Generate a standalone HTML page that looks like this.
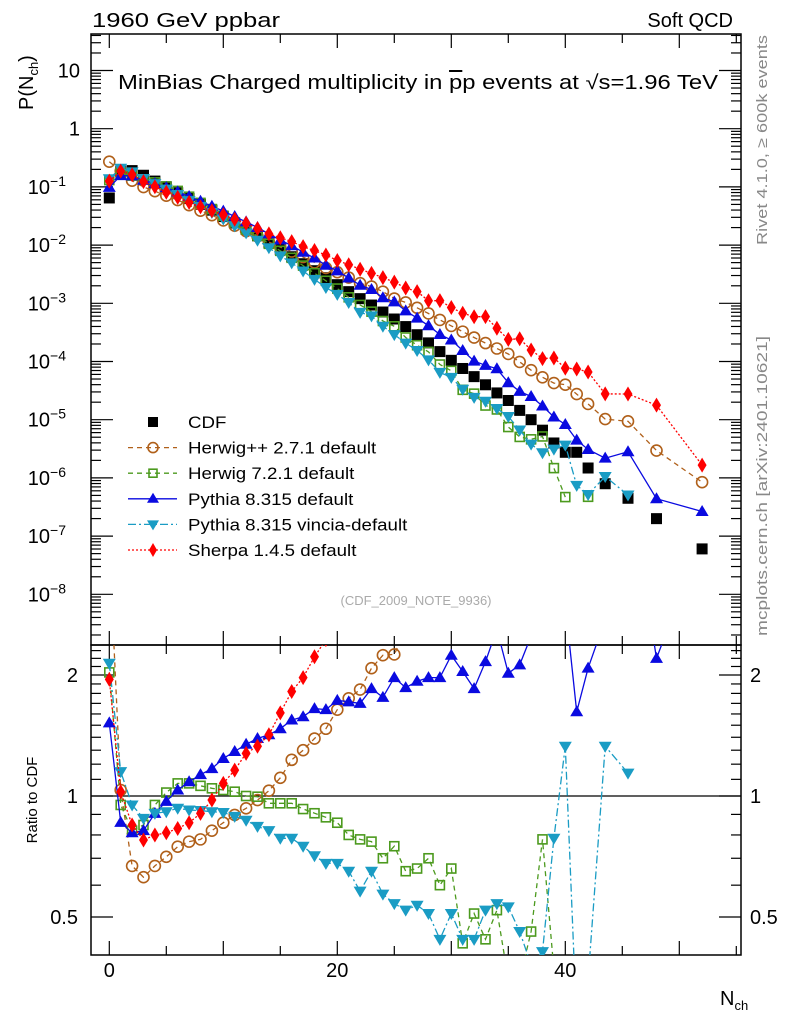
<!DOCTYPE html>
<html><head><meta charset="utf-8"><style>
html,body{margin:0;padding:0;background:#fff;width:786px;height:1024px;overflow:hidden;position:relative;}
svg{display:block;position:absolute;left:0;top:0;font-family:"Liberation Sans",sans-serif;overflow:hidden;}
</style></head><body>
<svg id="chart" width="786" height="1024" viewBox="0 0 786 1024" xmlns="http://www.w3.org/2000/svg">
<defs>
<clipPath id="clipMain"><rect x="91" y="34" width="650" height="611"/></clipPath>
<clipPath id="clipRatio"><rect x="91" y="645" width="650" height="310"/></clipPath>
</defs>
<text x="92" y="27" font-size="20" textLength="188" lengthAdjust="spacingAndGlyphs">1960 GeV ppbar</text>
<text x="733" y="27" font-size="20" text-anchor="end">Soft QCD</text>
<text x="118" y="89" font-size="20" textLength="600" lengthAdjust="spacingAndGlyphs">MinBias Charged multiplicity in <tspan text-decoration="overline">p</tspan>p events at √s=1.96 TeV</text>
<text transform="translate(33,110) rotate(-90)" font-size="20">P(N<tspan font-size="13" dy="5">ch</tspan><tspan dy="-5">)</tspan></text>
<text transform="translate(767,245) rotate(-90)" font-size="15" fill="#888" textLength="210" lengthAdjust="spacingAndGlyphs">Rivet 4.1.0, ≥ 600k events</text>
<text transform="translate(767,636) rotate(-90)" font-size="15" fill="#888" textLength="300" lengthAdjust="spacingAndGlyphs">mcplots.cern.ch [arXiv:2401.10621]</text>
<text x="416" y="605" font-size="13" fill="#aaa" text-anchor="middle">(CDF_2009_NOTE_9936)</text>
<text transform="translate(37,800) rotate(-90)" font-size="15" text-anchor="middle">Ratio to CDF</text>
<text x="720" y="1005" font-size="20">N<tspan font-size="13" dy="5">ch</tspan></text>
<g id="axes"></g>
<g id="mainMarks" clip-path="url(#clipMain)"></g>
<g id="ratioMarks" clip-path="url(#clipRatio)"></g>
<g id="legend"></g>
</svg>
<script>
// ---- data ----
const nch = [0,1,2,3,4,5,6,7,8,9,10,11,12,13,14,15,16,17,18,19,20,21,22,23,24,25,26,27,28,29,30,31,32,33,34,35,36,37,38,39,40,41,42,43.5,45.5,48,52];
const cdfLog10 = [-1.19,-0.74,-0.72,-0.8,-0.9,-1.0,-1.1,-1.2,-1.3,-1.4,-1.51,-1.62,-1.73,-1.84,-1.96,-2.08,-2.2,-2.32,-2.44,-2.56,-2.68,-2.8,-2.92,-3.03,-3.15,-3.27,-3.4,-3.54,-3.68,-3.83,-3.98,-4.12,-4.26,-4.4,-4.54,-4.67,-4.84,-5.0,-5.18,-5.4,-5.56,-5.56,-5.83,-6.1,-6.35,-6.7,-7.22];
const ratioHerwigPP = [4.2,1.035,0.67,0.628,0.67,0.706,0.748,0.77,0.78,0.82,0.858,0.897,0.932,0.977,1.031,1.11,1.23,1.30,1.39,1.47,1.64,1.75,1.84,2.08,2.24,2.25,2.6,2.9,3.2,3.5,3.9,4.3,4.7,5.2,5.8,6.3,6.8,7.1,8.1,10.7,14.5,10,12.6,12.9,21,14.8,14];
const ratioHerwig7 = [2.03,0.95,0.82,0.847,0.95,1.02,1.075,1.075,1.06,1.045,1.035,1.025,1.0,0.996,0.959,0.959,0.959,0.928,0.906,0.885,0.858,0.8,0.78,0.77,0.70,0.75,0.65,0.66,0.70,0.60,0.66,0.43,0.51,0.44,0.52,0.35,0.35,0.46,0.78,0.37,0.17,null,0.32,null,null,null,null];
const ratioPythia = [1.52,0.86,0.81,0.82,0.905,0.97,1.035,1.085,1.13,1.17,1.24,1.29,1.345,1.39,1.42,1.47,1.545,1.575,1.65,1.64,1.73,1.715,1.70,1.85,1.76,1.97,1.86,1.93,1.97,1.97,2.24,2.04,1.85,2.16,2.6,2.02,2.12,2.5,2.6,2.8,3.0,1.62,2.08,2.75,6.3,2.2,4.4];
const ratioVincia = [2.14,1.15,0.95,0.88,0.905,0.914,0.932,0.923,0.92,0.914,0.91,0.89,0.87,0.84,0.82,0.785,0.785,0.75,0.71,0.68,0.68,0.65,0.58,0.65,0.57,0.54,0.52,0.535,0.51,0.44,0.51,0.44,0.44,0.52,0.54,0.53,0.46,0.38,0.41,0.785,1.33,0.27,0.35,1.33,1.14,null,null];
const ratioSherpa = [1.95,1.025,0.847,0.777,0.8,0.81,0.83,0.858,0.905,0.977,1.075,1.16,1.277,1.33,1.42,1.61,1.82,1.97,2.22,2.45,2.6,2.9,3.2,3.5,3.9,4.3,4.6,5.5,5.3,7.5,8.1,8.9,10.7,14.8,12.9,11.2,17,15.8,17,28.8,28,27,44.7,35,62,89,27.5];
const xTicks = [0,20,40];
const mainTickExps = [1,0,-1,-2,-3,-4,-5,-6,-7,-8];
const ratioTickLabels = [0.5,1,2];

// ---- axis functions ----
const NS = "http://www.w3.org/2000/svg";
const X = n => 109.3 + 11.4*n;
const YM = v => 70.5 + (1 - Math.log10(v))*58.2;
const YR = r => 796 - 121*Math.log2(r);
function mk(tag, attrs, parent){const e=document.createElementNS(NS,tag);for(const k in attrs)e.setAttribute(k,attrs[k]);parent.appendChild(e);return e;}

const axes = document.getElementById('axes');
let f1 = mk('rect',{x:91,y:34,width:650,height:611,fill:'none',stroke:'#000','stroke-width':1.5},axes);


let f2 = mk('rect',{x:91,y:645,width:650,height:310,fill:'none',stroke:'#000','stroke-width':1.5},axes);


for(let n=0;n<=55;n+=5){
  const x=X(n); const len = (n%10===0)?14:9;
  for(const [y0,dir] of [[34,1],[645,-1],[645,1],[955,-1]]){
    const t = mk('line',{x1:x,x2:x,y1:y0,y2:y0+dir*len,stroke:'#000','stroke-width':1.2},axes);
    
    
  }
}
xTicks.forEach(v=>{
  const t = mk('text',{x:X(v),y:977,'font-size':20,'text-anchor':'middle'},axes);
  t.textContent = v;
  
  
});
for(let e=-9;e<=1;e++){
  for(let m=1;m<=9;m++){
    const v=m*Math.pow(10,e); const y=YM(v);
    if(y<34||y>645) continue;
    const len = m===1?22:10;
    const a = mk('line',{x1:91,x2:91+len,y1:y,y2:y,stroke:'#000','stroke-width':1.2},axes);
    
    
    const b = mk('line',{x1:741,x2:741-len,y1:y,y2:y,stroke:'#000','stroke-width':1.2},axes);
    
    
  }
}
mainTickExps.forEach(e=>{
  const y=YM(Math.pow(10,e));
  const t = mk('text',{x:80,y:y+7,'font-size':20,'text-anchor':'end'},axes);
  
  
  if(e===1) t.textContent='10';
  else if(e===0) t.textContent='1';
  else { t.setAttribute('x',66); t.textContent='10'; const s=mk('tspan',{'font-size':14,dy:-8},t); s.textContent='−'+(-e); }
});
const rt=[0.4,0.5,0.6,0.7,0.8,0.9,1,1.1,1.2,1.3,1.4,1.5,1.6,1.7,1.8,1.9,2,2.1,2.2,2.3];
rt.forEach(r=>{
  const y=YR(r); if(y<645||y>955) return;
  const len = (r===0.5||r===1||r===2)?22:10;
  const a = mk('line',{x1:91,x2:91+len,y1:y,y2:y,stroke:'#000','stroke-width':1.2},axes);
  
  
  const b = mk('line',{x1:741,x2:741-len,y1:y,y2:y,stroke:'#000','stroke-width':1.2},axes);
  
  
});
ratioTickLabels.forEach(r=>{
  const y=YR(r);
  const a = mk('text',{x:78,y:y+7,'font-size':20,'text-anchor':'end'},axes);
  a.textContent=r;
  
  
  const b = mk('text',{x:750,y:y+7,'font-size':20},axes);
  b.textContent=r;
  
  
});
const unity = mk('line',{x1:91,x2:741,y1:YR(1),y2:YR(1),stroke:'#000','stroke-width':1.2},axes);



function marker(g, type, x, y, color, s){
  s = s||5.5;
  if(type==='sq') return mk('rect',{x:x-s,y:y-s,width:2*s,height:2*s,fill:color},g);
  if(type==='osq') return mk('rect',{x:x-s+1,y:y-s+1,width:2*s-2,height:2*s-2,fill:'none',stroke:color,'stroke-width':1.6},g);
  if(type==='oc') return mk('circle',{cx:x,cy:y,r:s,fill:'none',stroke:color,'stroke-width':1.6},g);
  if(type==='tu') return mk('polygon',{points:`${x},${y-s-1} ${x-s-1},${y+s-1} ${x+s+1},${y+s-1}`,fill:color},g);
  if(type==='td') return mk('polygon',{points:`${x},${y+s+1} ${x-s-1},${y-s+1} ${x+s+1},${y-s+1}`,fill:color},g);
  if(type==='dm') return mk('polygon',{points:`${x},${y-s-2} ${x-s+1},${y} ${x},${y+s+2} ${x+s-1},${y}`,fill:color},g);
}
const cdf = cdfLog10.map(l=>Math.pow(10,l));
const series = [
  {name:'herwigpp', label:'Herwig++ 2.7.1 default', ratio:ratioHerwigPP, color:'#b0601a', dash:'5,4', m:'oc'},
  {name:'herwig7', label:'Herwig 7.2.1 default', ratio:ratioHerwig7, color:'#4c9a1e', dash:'5,4', m:'osq'},
  {name:'pythia', label:'Pythia 8.315 default', ratio:ratioPythia, color:'#0a0ae0', dash:'', m:'tu'},
  {name:'vincia', label:'Pythia 8.315 vincia-default', ratio:ratioVincia, color:'#1a9cc4', dash:'8,3,2,3', m:'td'},
  {name:'sherpa', label:'Sherpa 1.4.5 default', ratio:ratioSherpa, color:'#ff0000', dash:'2,2', m:'dm'}
];
const mainG=document.getElementById('mainMarks');
const ratioG=document.getElementById('ratioMarks');
const cg = mk('g',{},mainG);


nch.forEach((n,i)=>{
  const p = marker(cg,'sq',X(n),YM(cdf[i]),'#000');
  
  
});
function pathFrom(pts){
  let d='', pen=false;
  pts.forEach(p=>{ if(!p){pen=false;return;} d += (pen?'L':'M')+p[0].toFixed(1)+','+p[1].toFixed(1); pen=true; });
  return d;
}
series.forEach(s=>{
  const gm = mk('g',{},mainG);
  
  
  const gr = mk('g',{},ratioG);
  
  
  const mp = nch.map((n,i)=> s.ratio[i]==null?null:[X(n), YM(cdf[i]*s.ratio[i])]);
  const rp = nch.map((n,i)=> s.ratio[i]==null?null:[X(n), YR(s.ratio[i])]);
  const l1 = mk('path',{d:pathFrom(mp),fill:'none',stroke:s.color,'stroke-width':1.3,'stroke-dasharray':s.dash},gm);
  
  
  const l2 = mk('path',{d:pathFrom(rp),fill:'none',stroke:s.color,'stroke-width':1.3,'stroke-dasharray':s.dash},gr);
  
  
  mp.forEach(p=>{ if(!p) return;
    const e = marker(gm,s.m,p[0],p[1],s.color);
    
    
  });
  rp.forEach(p=>{ if(!p) return;
    const e = marker(gr,s.m,p[0],p[1],s.color);
    
    
  });
});
const lg=document.getElementById('legend');


const legRows=[{label:'CDF',m:'sq',color:'#000',dash:null}].concat(series);
legRows.forEach((s,i)=>{
  const y = 422 + i*25.6;
  const g = mk('g',{},lg);
  
  
  if(s.dash!==null){ mk('line',{x1:128,x2:177,y1:y,y2:y,stroke:s.color,'stroke-width':1.3,'stroke-dasharray':s.dash},g); }
  marker(g,s.m,153,y,s.color,5);
  const t = mk('text',{x:188,y:y+6,'font-size':17},g);
  t.textContent = s.label;
  const w = t.getComputedTextLength();
  t.setAttribute('textLength',(w*1.1).toFixed(1));
  t.setAttribute('lengthAdjust','spacingAndGlyphs');
});
</script>
</body></html>
